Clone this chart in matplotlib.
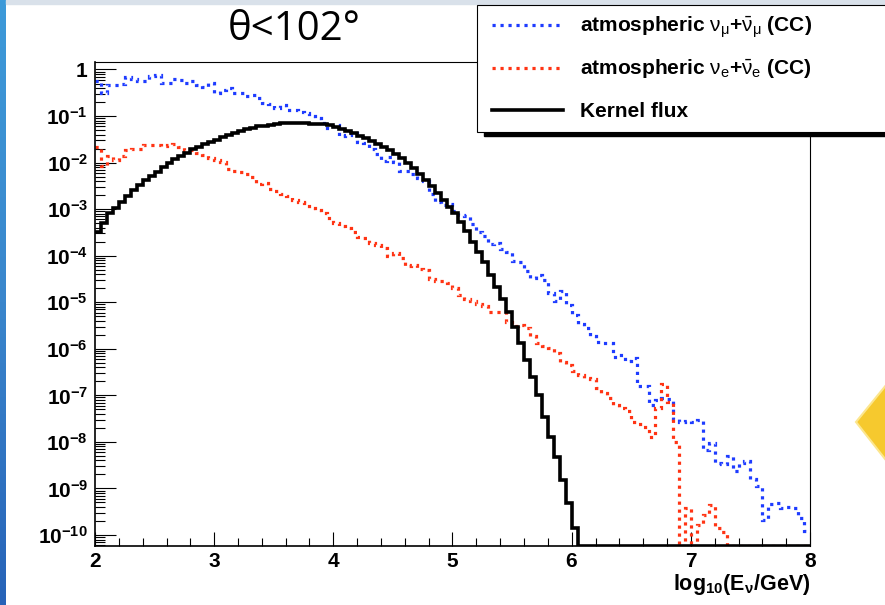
import numpy as np
import matplotlib
matplotlib.use("Agg")
from matplotlib import pyplot as plt
from matplotlib.patches import Rectangle, Polygon
from matplotlib.lines import Line2D
from matplotlib.ticker import FixedLocator, MultipleLocator, FuncFormatter, NullFormatter

plt.rcParams["font.family"] = ["Liberation Sans", "DejaVu Sans"]
plt.rcParams["mathtext.fontset"] = "custom"
plt.rcParams["mathtext.rm"] = "Liberation Sans"
plt.rcParams["mathtext.it"] = "Liberation Sans"
plt.rcParams["mathtext.bf"] = "Liberation Sans:bold"

# histogram binning: 120 bins in log10(E/GeV) from 2 to 8
xMin, xMax, nBins = 2.0, 8.0, 120

# log10 of bin contents, None = empty bin
numuLog = [
  -0.25, -0.50, -0.33, -0.33, -0.31, -0.17, -0.21, -0.24, -0.25, -0.14,
  -0.11, -0.28, -0.28, -0.21, -0.23, -0.29, -0.25, -0.33, -0.38, -0.30,
  -0.50, -0.43, -0.40, -0.51, -0.51, -0.57, -0.55, -0.62, -0.73, -0.74,
  -0.83, -0.76, -0.86, -0.86, -0.92, -0.94, -0.99, -1.04, -1.14, -1.25,
  -1.20, -1.42, -1.40, -1.37, -1.55, -1.58, -1.71, -1.82, -1.96, -1.87,
  -1.98, -2.19, -2.19, -2.25, -2.34, -2.40, -2.68, -2.84, -2.91, -2.88,
  -3.05, -3.12, -3.15, -3.32, -3.50, -3.58, -3.75, -3.72, -3.85, -3.92,
  -4.12, -4.13, -4.33, -4.48, -4.42, -4.52, -4.80, -4.97, -4.75, -5.06,
  -5.28, -5.46, -5.56, -5.72, -5.86, -5.88, -5.87, -6.18, -6.13, -6.27,
  -6.20, -6.80, -6.80, -7.20, -7.10, -7.05, -7.08, -7.50, -7.58, -7.55,
  -7.58, -7.53, -8.18, -8.02, -8.45, -8.48, -8.30, -8.63, -8.45, -8.42,
  -8.80, -8.95, -9.68, -9.33, -9.32, -9.42, -9.39, -9.42, -9.63, -9.92,
]
nueLog = [
  -1.67, -2.08, -1.86, -1.94, -1.86, -1.73, -1.71, -1.71, -1.63, -1.63,
  -1.62, -1.65, -1.63, -1.60, -1.67, -1.72, -1.73, -1.80, -1.84, -1.91,
  -1.95, -1.98, -2.13, -2.17, -2.20, -2.24, -2.32, -2.46, -2.43, -2.56,
  -2.60, -2.67, -2.72, -2.80, -2.84, -2.86, -2.98, -3.02, -3.08, -3.18,
  -3.29, -3.36, -3.41, -3.50, -3.60, -3.63, -3.72, -3.78, -3.83, -4.01,
  -3.95, -4.05, -4.22, -4.20, -4.28, -4.31, -4.50, -4.54, -4.55, -4.58,
  -4.70, -4.84, -4.92, -4.97, -5.04, -5.08, -5.21, -5.22, -5.20, -5.42,
  -5.52, -5.49, -5.55, -5.72, -5.88, -5.95, -5.99, -6.10, -6.28, -6.35,
  -6.48, -6.57, -6.62, -6.65, -6.85, -6.95, -7.05, -7.20, -7.28, -7.33,
  -7.58, -7.62, -7.67, -7.90, -7.28, -6.75, -7.15, -8.00, None, -9.43,
  None, -9.78, -9.58, -9.36, -9.86, -9.93, None, None, None, None,
  None, None, None, None, None, None, None, None, None, None,
]
kernelLog = [
  -3.49, -3.30, -3.08, -2.98, -2.85, -2.72, -2.59, -2.48, -2.37, -2.29,
  -2.20, -2.10, -2.01, -1.92, -1.86, -1.79, -1.71, -1.66, -1.60, -1.55,
  -1.52, -1.46, -1.41, -1.36, -1.32, -1.28, -1.25, -1.22, -1.21, -1.19,
  -1.17, -1.14, -1.14, -1.14, -1.14, -1.14, -1.17, -1.17, -1.18, -1.20,
  -1.23, -1.28, -1.33, -1.37, -1.43, -1.48, -1.53, -1.59, -1.66, -1.73,
  -1.81, -1.91, -2.01, -2.12, -2.24, -2.37, -2.50, -2.65, -2.80, -2.95,
  -3.09, -3.27, -3.48, -3.70, -3.91, -4.13, -4.41, -4.67, -4.92, -5.20,
  -5.53, -5.88, -6.24, -6.60, -6.99, -7.46, -7.89, -8.32, -8.82, -9.32,
  -9.86, None, None, None, None, None, None, None, None, None,
  None, None, None, None, None, None, None, None, None, None,
  None, None, None, None, None, None, None, None, None, None,
  None, None, None, None, None, None, None, None, None, None,
]

seriesLabels = [
  r"atmospheric $\nu_{\mu}$+$\bar{\nu}_{\mu}$ (CC)",
  r"atmospheric $\nu_{e}$+$\bar{\nu}_{e}$ (CC)",
  "Kernel flux",
]
titleText = "θ<102°"
xLabelText = r"$\mathbf{log_{10}(E_{\nu}/GeV)}$"
yDecades = list(range(0, -11, -1))

yLow, yHigh = 10 ** -10.236, 10 ** 0.161
blue = "#1e3cff"
red = "#ff3414"
dots = (0, (1, 1.5))

W, H = 885, 605


def fx(px):
  return px / W


def fy(py):
  return 1 - py / H


def toFlux(logs):
  # empty bins are drawn on the bottom of the frame, like ROOT does
  return np.array([10.0 ** v if v is not None else yLow for v in logs])


edges = np.linspace(xMin, xMax, nBins + 1)

fig = plt.figure(figsize=(W / 100, H / 100), dpi=100)
ax = fig.add_axes([fx(95), fy(546), (810 - 95) / W, (546 - 62) / H])

ax.stairs(toFlux(numuLog), edges, baseline=None, color=blue, lw=2.3,
          ls=dots, zorder=2)
ax.stairs(toFlux(nueLog), edges, baseline=None, color=red, lw=2.3,
          ls=dots, zorder=2)
ax.stairs(toFlux(kernelLog), edges, baseline=None, color="black", lw=2.6,
          zorder=3)

ax.set_yscale("log")
ax.set_xlim(xMin, xMax)
ax.set_ylim(yLow, yHigh)


def yFmt(v, pos):
  e = int(round(np.log10(v)))
  if e == 0:
    return r"$\mathbf{1}$"
  return r"$\mathbf{10^{%d}}$" % e


def xFmt(v, pos):
  return r"$\mathbf{%d}$" % round(v)


minorY = [m * 10.0 ** d for d in yDecades[1:] + [-11] for m in range(2, 10)]
minorY = [v for v in minorY if yLow < v < yHigh]
ax.yaxis.set_major_locator(FixedLocator([10.0 ** d for d in yDecades]))
ax.yaxis.set_minor_locator(FixedLocator(minorY))
ax.yaxis.set_major_formatter(FuncFormatter(yFmt))
ax.yaxis.set_minor_formatter(NullFormatter())
ax.xaxis.set_major_locator(MultipleLocator(1))
ax.xaxis.set_minor_locator(MultipleLocator(0.2))
ax.xaxis.set_major_formatter(FuncFormatter(xFmt))

ax.tick_params(axis="y", which="major", direction="in", length=15, width=0.8,
               labelsize=15, pad=5, right=False)
ax.tick_params(axis="y", which="minor", direction="in", length=7.5, width=0.8,
               right=False)
ax.tick_params(axis="x", which="major", direction="in", length=10, width=0.8,
               labelsize=15, pad=4, top=False)
ax.tick_params(axis="x", which="minor", direction="in", length=5.5, width=0.8,
               top=False)

ax.spines["left"].set_linewidth(1.2)
ax.spines["bottom"].set_linewidth(1.2)
ax.spines["top"].set_linewidth(0.8)
ax.spines["right"].set_linewidth(0.8)

ax.set_xlabel(xLabelText, loc="right", fontsize=15.5, labelpad=1)

# slide decorations around the screenshot
grad = np.linspace(0, 1, 256).reshape(-1, 1)
stripAx = fig.add_axes([0, 0, fx(6), 1])
stripAx.imshow(grad, aspect="auto", cmap=matplotlib.colors.LinearSegmentedColormap.from_list(
  "strip", ["#3d9ad9", "#3a86cc", "#2763b8"]))
stripAx.set_axis_off()
fig.patches.append(Rectangle((fx(6), fy(4)), 1, 4 / H, transform=fig.transFigure,
                             color="#d9e1ea", zorder=0))
fig.patches.append(Polygon([(fx(856), fy(422)), (fx(900), fy(368)),
                            (fx(960), fy(420)), (fx(900), fy(478))],
                           closed=True, transform=fig.transFigure,
                           facecolor="#f6c92e", edgecolor="#fce68e", lw=1.5,
                           zorder=1))

# legend box with ROOT-style shadow
fig.patches.append(Rectangle((fx(484), fy(136)), 0.6, (136 - 9) / H,
                             transform=fig.transFigure, facecolor="black",
                             edgecolor="black", zorder=4))
fig.patches.append(Rectangle((fx(477), fy(132)), 0.6, (132 - 5) / H,
                             transform=fig.transFigure, facecolor="white",
                             edgecolor="black", lw=0.8, zorder=5))
styles = [(blue, dots, 2.3), (red, dots, 2.3), ("black", "-", 2.6)]
for i, (lab, (col, ls, lw)) in enumerate(zip(seriesLabels, styles)):
  yRow = 25 + 42.5 * i
  fig.add_artist(Line2D([fx(492), fx(563)], [fy(yRow), fy(yRow)],
                        transform=fig.transFigure, color=col, ls=ls, lw=lw,
                        zorder=6))
  fig.text(fx(580), fy(yRow + 7), lab, fontsize=15, fontweight="bold",
           ha="left", va="baseline", zorder=6)

fig.text(fx(294), fy(30), titleText, fontsize=29, ha="center", va="center",
         family=["Open Sans", "DejaVu Sans"])

fig.savefig("out.png", dpi=100, facecolor="white")
